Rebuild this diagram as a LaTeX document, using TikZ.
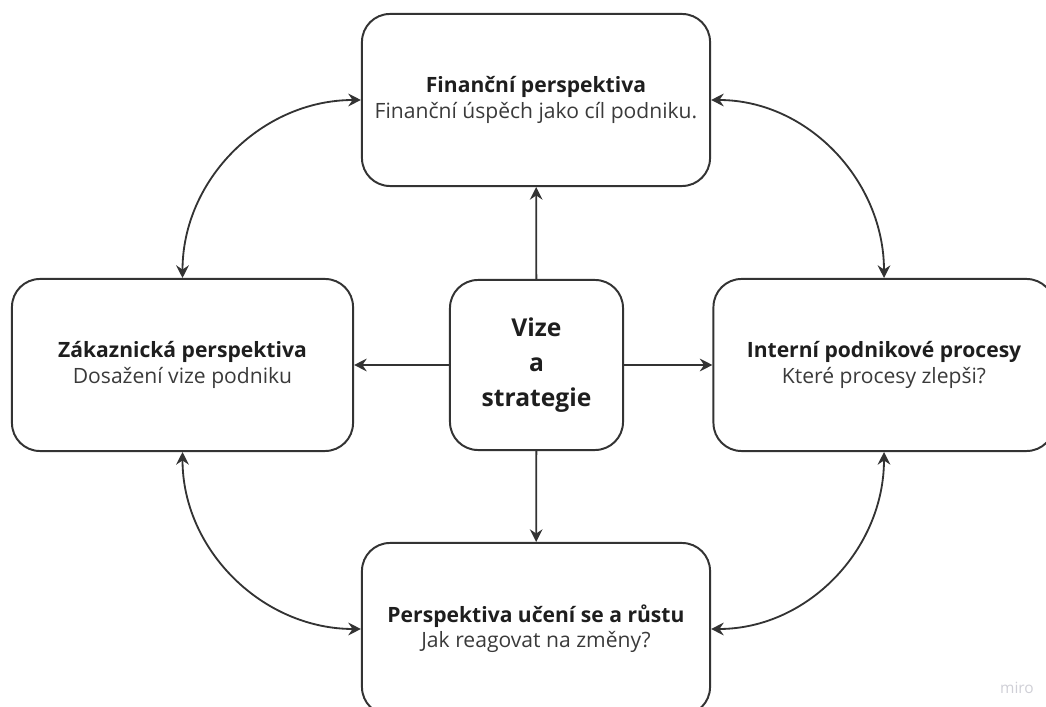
\documentclass[tikz,border=0pt]{standalone}
\usepackage{fontspec}
\setmainfont{Open Sans}
\usepackage{xcolor}
\definecolor{lineGray}{HTML}{333333}
\definecolor{textDark}{HTML}{1E1E1E}
\definecolor{textSoft}{HTML}{3A3A3A}
\definecolor{miroGray}{HTML}{CFCFD6}
\usetikzlibrary{arrows.meta}

\tikzset{
  box/.style={draw=lineGray, line width=1.4pt, rounded corners=0.7cm,
    minimum width=8.7cm, minimum height=4.3cm, align=center, text=textDark,
    font=\fontsize{15}{18}\selectfont},
  link/.style={lineGray, line width=1.3pt},
}

\begin{document}
\begin{tikzpicture}[x=0.025cm, y=-0.025cm, >={Stealth[length=9pt, width=9pt, inset=3pt]}]
  \useasboundingbox (0,0) rectangle (1046,707);
  \clip (0,0) rectangle (1046,707);
  % the four perspectives
  \node[box] (fin) at (536,100)
    {\textbf{Finanční perspektiva}\\ \color{textSoft}Finanční úspěch jako cíl podniku.};
  \node[box, minimum width=8.525cm] (cust) at (182.5,365)
    {\textbf{Zákaznická perspektiva}\\ \color{textSoft}Dosažení vize podniku};
  \node[box, minimum width=8.525cm] (proc) at (884,365)
    {\textbf{Interní podnikové procesy}\\ \color{textSoft}Které procesy zlepši?};
  \node[box] (learn) at (536,629)
    {\textbf{Perspektiva učení se a růstu}\\ \color{textSoft}Jak reagovat na změny?};
  % vision in the middle
  \node[box, minimum width=4.325cm, minimum height=4.25cm,
    font=\fontsize{17.5}{25}\selectfont\bfseries] (vis) at (536.5,365)
    {Vize\\ a\\ strategie};
  % from the vision outwards
  \draw[link,->] (vis) -- (fin);
  \draw[link,->] (vis) -- (cust);
  \draw[link,->] (vis) -- (proc);
  \draw[link,->] (vis) -- (learn);
  % links round the cycle
  \draw[link,<->] (fin.west) to[out=180, in=90] (cust.north);
  \draw[link,<->] (fin.east) to[out=0, in=90] (proc.north);
  \draw[link,<->] (learn.west) to[out=180, in=-90] (cust.south);
  \draw[link,<->] (learn.east) to[out=0, in=-90] (proc.south);
  % watermark
  \node[text=miroGray, font=\fontsize{11}{12}\selectfont] (mark) at (1017,688) {miro};
\end{tikzpicture}
\end{document}
